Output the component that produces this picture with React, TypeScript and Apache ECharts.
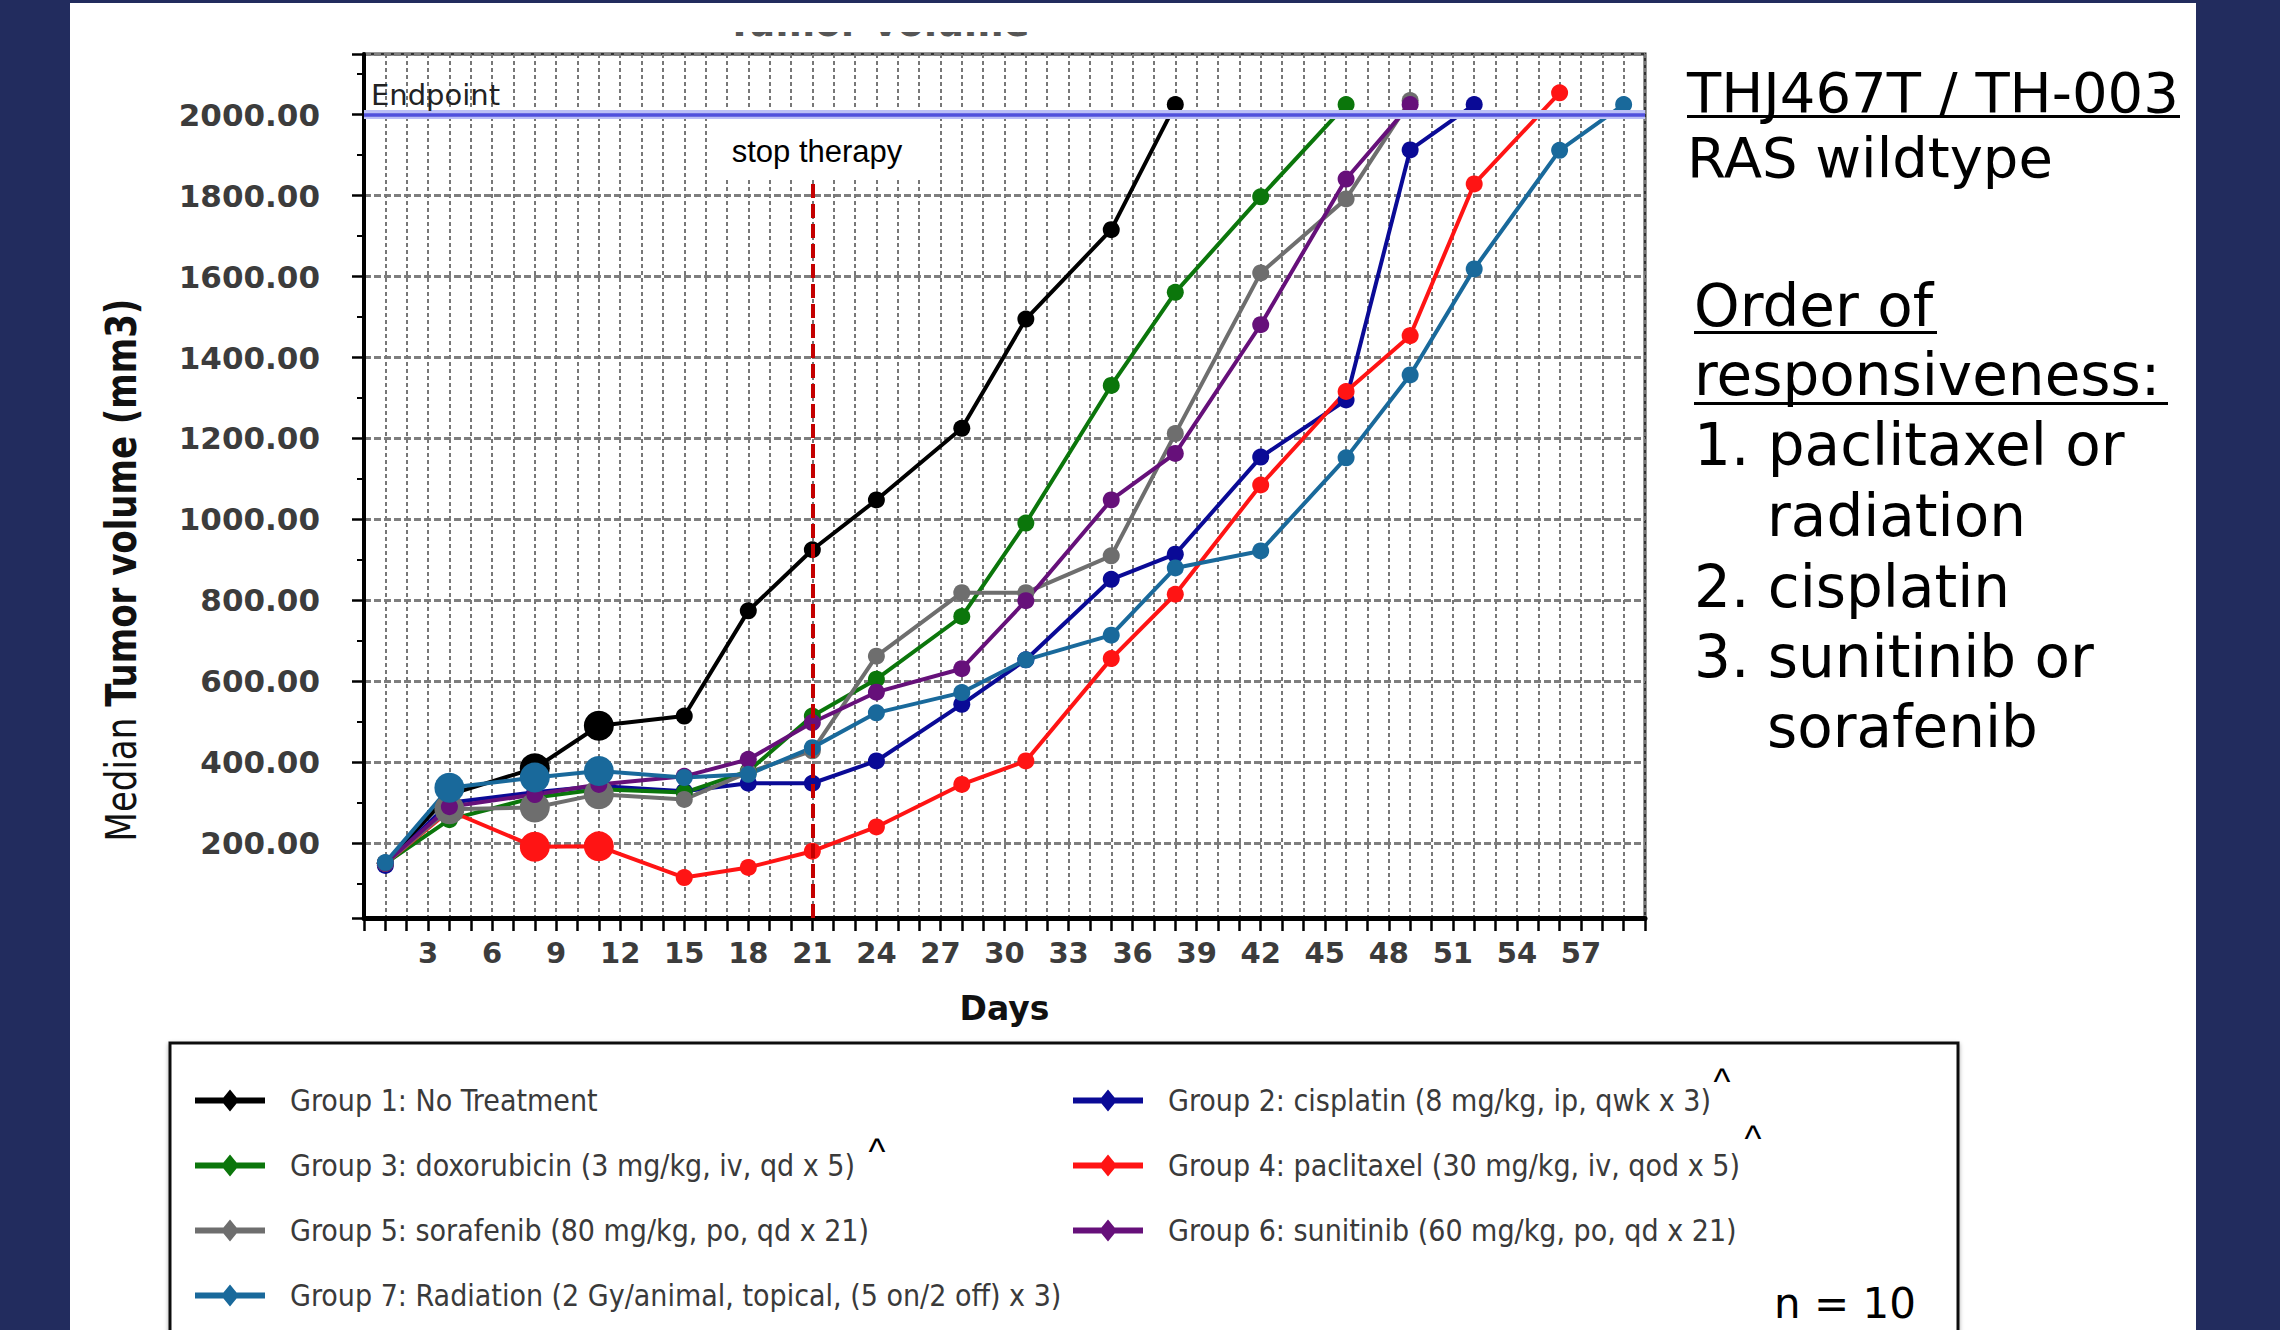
import React, { useEffect, useRef } from 'react';
import * as echarts from 'echarts';

// ---------- data ----------
const days = [1, 4, 8, 11, 15, 18, 21, 24, 28, 31, 35, 38, 42, 46, 49, 52, 56, 59];

const groupNames = [
  'Group 1: No Treatment',
  'Group 2: cisplatin (8 mg/kg, ip, qwk x 3)',
  'Group 3: doxorubicin (3 mg/kg, iv, qd x 5)',
  'Group 4: paclitaxel (30 mg/kg, iv, qod x 5)',
  'Group 5: sorafenib (80 mg/kg, po, qd x 21)',
  'Group 6: sunitinib (60 mg/kg, po, qd x 21)',
  'Group 7: Radiation (2 Gy/animal, topical, (5 on/2 off) x 3)',
];
const groupColors = ['#000000', '#0a0a96', '#0b760b', '#ff1414', '#6e6e6e', '#66107a', '#19699b'];

const g1 = [150, 320, 385, 490, 514, 774, 925, 1048, 1225, 1495, 1716, 2025];
const g2 = [145, 300, 326, 341, 328, 348, 348, 403, 543, 653, 852, 914, 1154, 1295, 1913, 2025];
const g3 = [150, 258, 313, 333, 325, 378, 514, 605, 760, 991, 1331, 1561, 1797, 2025];
const g4 = [150, 280, 191, 192, 115, 140, 180, 240, 345, 403, 656, 815, 1085, 1316, 1454, 1829, 2054];
const g5 = [150, 284, 288, 321, 308, 375, 428, 662, 819, 819, 910, 1212, 1609, 1792, 2035];
const g6 = [150, 290, 320, 345, 365, 407, 498, 573, 631, 799, 1048, 1163, 1481, 1841, 2025];
const g7 = [152, 337, 362, 378, 362, 370, 436, 522, 572, 653, 714, 880, 922, 1152, 1357, 1619, 1912, 2025];
const groupValues = [g1, g2, g3, g4, g5, g6, g7];

// days on which a group's marker is drawn large
const bigMarkerDays = [[8, 11], [], [], [8, 11], [4, 8, 11], [], [4, 8, 11]];

const endpointValue = 2000;
const stopTherapyDay = 21;
const stopLineTop = 1846; // value where the dashed line emerges below the label box
const xMin = 0;
const xMax = 60;
const xLabelStep = 3;
const yMin = 15;
const yMax = 2150;
const yLabelStep = 200;

const rightTitle = 'THJ467T / TH-003';
const rightSubtitle = 'RAS wildtype';
const orderLines = ['1. paclitaxel or', 'radiation', '2. cisplatin', '3. sunitinib or', 'sorafenib'];

const LEGEND_ICON = 'path://M0,8L70,8L70,14L0,14Z M35,0L44,11L35,22L26,11Z';

const SANS = 'DejaVu Sans, Verdana, sans-serif';
const COND = 'DejaVu Sans Condensed, DejaVu Sans, sans-serif';
const ARIAL = 'Liberation Sans, Arial, sans-serif';

function buildOption() {
  const series: any[] = groupNames.map((name, gi) => {
    const vals = groupValues[gi];
    const big = bigMarkerDays[gi];
    const s: any = {
      name,
      type: 'line',
      data: vals.map((v, i) => [days[i], v]),
      symbol: 'circle',
      symbolSize: (val: number[]) => (big.indexOf(val[0]) >= 0 ? 30 : 17),
      lineStyle: { color: groupColors[gi], width: 4 },
      itemStyle: { color: groupColors[gi] },
      color: groupColors[gi],
      silent: true,
      clip: false,
    };
    if (gi === 0) {
      s.markLine = {
        silent: true,
        symbol: ['none', 'none'],
        label: { show: false },
        data: [
          { yAxis: endpointValue, lineStyle: { color: '#bcc0f6', width: 9, type: 'solid' } },
          { yAxis: endpointValue, lineStyle: { color: '#5050dc', width: 3.5, type: 'solid' } },
          [
            { coord: [stopTherapyDay, yMin], lineStyle: { color: '#c40000', width: 4, type: [14, 6] } },
            { coord: [stopTherapyDay, stopLineTop] },
          ],
        ],
      };
    }
    return s;
  });

  const mid = (baseline: number, size: number) => baseline - 0.346 * size;

  const txt = (text: string, x: number, baseline: number, size: number, extra: any = {}) => ({
    type: 'text',
    x,
    y: mid(baseline, size),
    z: 20,
    style: {
      text,
      fontSize: size,
      fontFamily: SANS,
      fill: '#000',
      align: 'left',
      verticalAlign: 'middle',
      ...extra,
    },
  });

  const graphic: any[] = [
    // white panel
    { type: 'rect', z: -10, shape: { x: 70, y: 3, width: 2126, height: 1327 }, style: { fill: '#ffffff' } },
    // partially hidden chart title (only the bottom of its letters shows)
    {
      type: 'text', x: 878, y: mid(36, 38), z: 0,
      style: { text: 'Tumor volume', fontSize: 38, fontWeight: 'bold', fontFamily: SANS, fill: '#555', align: 'center', verticalAlign: 'middle' },
    },
    { type: 'rect', z: 8, shape: { x: 690, y: 3, width: 380, height: 29 }, style: { fill: '#ffffff' } },
    // stop therapy label
    { type: 'rect', z: 50, shape: { x: 709, y: 119, width: 218, height: 59 }, style: { fill: '#ffffff' } },
    {
      type: 'text', x: 817, y: 151, z: 51,
      style: { text: 'stop therapy', fontSize: 31, fontFamily: ARIAL, fill: '#000', align: 'center', verticalAlign: 'middle' },
    },
    // Endpoint label
    {
      type: 'text', x: 371, y: mid(105, 29), z: 51,
      style: { text: 'Endpoint', fontSize: 29, fontFamily: SANS, fill: '#222', align: 'left', verticalAlign: 'middle' },
    },
    // y axis name
    {
      type: 'text', x: 121, y: 570, rotation: Math.PI / 2, scaleY: 1.25, z: 20,
      style: {
        text: '{a|Median }{b|Tumor volume (mm3)}',
        align: 'center',
        verticalAlign: 'middle',
        rich: {
          a: { fontSize: 34, fontFamily: SANS, fill: '#111' },
          b: { fontSize: 34, fontFamily: SANS, fontWeight: 'bold', fill: '#111' },
        },
      },
    },
    // right-side annotations
    txt(rightTitle, 1687, 112, 56),
    { type: 'rect', z: 20, shape: { x: 1687, y: 115, width: 493, height: 3 }, style: { fill: '#000' } },
    txt(rightSubtitle, 1687, 177, 56),
    txt('Order of', 1694, 326, 58),
    { type: 'rect', z: 20, shape: { x: 1694, y: 331, width: 243, height: 3 }, style: { fill: '#000' } },
    txt('responsiveness:', 1694, 395, 58),
    { type: 'rect', z: 20, shape: { x: 1694, y: 402, width: 474, height: 3 }, style: { fill: '#000' } },
    txt(orderLines[0], 1694, 465, 58),
    txt(orderLines[1], 1767, 536, 58),
    txt(orderLines[2], 1694, 607, 58),
    txt(orderLines[3], 1694, 677, 58),
    txt(orderLines[4], 1767, 747, 58),
    // legend box
    {
      type: 'rect', z: 1, shape: { x: 170, y: 1043, width: 1788, height: 320 },
      style: { fill: '#ffffff', stroke: '#111', lineWidth: 3, shadowBlur: 4, shadowColor: 'rgba(0,0,0,0.35)', shadowOffsetY: 2 },
    },
    // carets
    { type: 'text', x: 877, y: 1151, z: 20, style: { text: '^', fontSize: 36, fontFamily: ARIAL, fill: '#000', align: 'center', verticalAlign: 'middle' } },
    { type: 'text', x: 1722, y: 1081, z: 20, style: { text: '^', fontSize: 36, fontFamily: ARIAL, fill: '#000', align: 'center', verticalAlign: 'middle' } },
    { type: 'text', x: 1753, y: 1138, z: 20, style: { text: '^', fontSize: 36, fontFamily: ARIAL, fill: '#000', align: 'center', verticalAlign: 'middle' } },
    txt('n = 10', 1774, 1318, 42),
  ];

  return {
    animation: false,
    backgroundColor: '#222c5e',
    grid: {
      left: 364, top: 54, width: 1281, height: 864,
      show: true, backgroundColor: '#ffffff', borderColor: '#333', borderWidth: 3,
    },
    xAxis: {
      type: 'value',
      min: xMin,
      max: xMax,
      interval: 1,
      name: 'Days',
      nameLocation: 'middle',
      nameGap: 74,
      nameTextStyle: { fontSize: 33, fontWeight: 'bold', fontFamily: SANS, color: '#111', verticalAlign: 'top' },
      axisLine: { lineStyle: { color: '#000', width: 5 } },
      axisTick: { show: true, length: 13, lineStyle: { color: '#000', width: 2.5 } },
      axisLabel: {
        margin: 20,
        fontSize: 29,
        fontWeight: 'bold',
        fontFamily: SANS,
        color: '#3c3c3c',
        formatter: (v: number) => (v % xLabelStep === 0 && v > xMin && v < xMax ? String(v) : ''),
      },
      splitLine: { show: true, lineStyle: { color: '#777', width: 2, type: [4, 3] } },
    },
    yAxis: {
      type: 'value',
      min: yMin,
      max: yMax,
      splitNumber: 11,
      axisLine: { show: true, lineStyle: { color: '#000', width: 4 } },
      axisTick: { show: true, length: 12, lineStyle: { color: '#000', width: 2.5 } },
      minorTick: { show: true, splitNumber: 2, length: 7, lineStyle: { color: '#000', width: 2 } },
      axisLabel: {
        margin: 44,
        fontSize: 31,
        fontWeight: 'bold',
        fontFamily: SANS,
        color: '#3c3c3c',
        showMinLabel: false,
        showMaxLabel: false,
        formatter: (v: number) => (Math.abs(v % yLabelStep) < 1e-6 ? v.toFixed(2) : ''),
      },
      splitLine: { show: true, lineStyle: { color: '#7e7e7e', width: 3, type: [7, 3] } },
    },
    legend: {
      data: groupNames.map((n) => ({ name: n, icon: LEGEND_ICON })),
      left: 195,
      top: 1068,
      width: 1760,
      padding: 0,
      itemGap: 0,
      itemWidth: 70,
      itemHeight: 22,
      selectedMode: false,
      textStyle: {
        fontFamily: COND,
        fontSize: 30,
        color: '#3a3a3a',
        width: 783,
        lineHeight: 65,
        padding: [0, 0, 0, 20],
        overflow: 'none',
      },
    },
    series,
    graphic,
  };
}

export default function App() {
  const ref = useRef<HTMLDivElement>(null);
  useEffect(() => {
    document.body.style.margin = '0';
    const chart = echarts.init(ref.current as HTMLDivElement, null, { renderer: 'svg', width: 2280, height: 1330 });
    chart.setOption(buildOption() as any);
    return () => chart.dispose();
  }, []);
  return <div ref={ref} style={{ position: 'absolute', left: 0, top: 0, width: 2280, height: 1330 }} />;
}
